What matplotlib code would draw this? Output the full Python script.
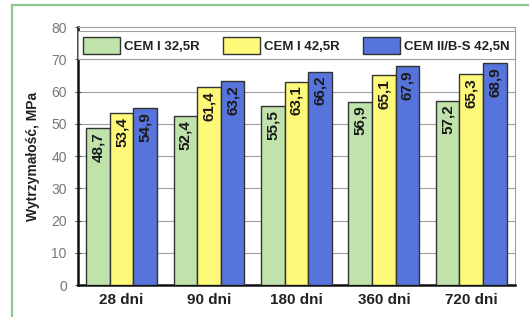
import matplotlib.pyplot as plt
import numpy as np
from matplotlib.lines import Line2D

plt.rcParams['font.family'] = ['Liberation Sans', 'DejaVu Sans']

# data
periods = ['28 dni', '90 dni', '180 dni', '360 dni', '720 dni']
series = ['CEM I 32,5R', 'CEM I 42,5R', 'CEM II/B-S 42,5N']
cem_32_5r = [48.7, 52.4, 55.5, 56.9, 57.2]
cem_42_5r = [53.4, 61.4, 63.1, 65.1, 65.3]
cem_ii_42_5n = [54.9, 63.2, 66.2, 67.9, 68.9]
colors = ['#bfe3ab', '#fff97a', '#5674dc']

fig = plt.figure(figsize=(5.29, 3.17), dpi=100)
ax = fig.add_axes([0.1474, 0.1009, 0.8261, 0.8139])

# outer green frame (top and left edges only visible)
fig.add_artist(Line2D([12 / 529, 1], [1 - 5 / 317, 1 - 5 / 317],
                      transform=fig.transFigure, color='#8cc88c', lw=1.6))
fig.add_artist(Line2D([12 / 529, 12 / 529], [0, 1 - 5 / 317],
                      transform=fig.transFigure, color='#8cc88c', lw=1.6))

x = np.arange(len(periods))
w = 0.27
for i, (vals, c, name) in enumerate(zip([cem_32_5r, cem_42_5r, cem_ii_42_5n], colors, series)):
    bars = ax.bar(x + (i - 1) * w, vals, w, color=c, edgecolor='#333333',
                  linewidth=1.0, label=name, zorder=3)
    for b, v in zip(bars, vals):
        ax.annotate(f'{v:.1f}'.replace('.', ','),
                    (b.get_x() + b.get_width() / 2, v),
                    xytext=(0, -3), textcoords='offset points',
                    rotation=90, ha='center', va='top',
                    fontsize=11, fontweight='bold', color='#1a1a1a', zorder=4)

ax.set_xlim(-0.5, len(periods) - 0.5)
ax.set_ylim(0, 80)
ax.set_yticks(range(0, 81, 10))
ax.set_xticks(x)
ax.set_xticklabels(periods, fontsize=11, fontweight='bold', color='#222222')
ax.tick_params(axis='x', length=0, pad=6)
ax.tick_params(axis='y', labelsize=10, labelcolor='#777777', length=4,
               direction='inout', color='#555555', pad=6)
ax.yaxis.grid(True, color='#a0a0a0', linewidth=0.8, zorder=0)
ax.set_axisbelow(True)

for s in ['left', 'bottom']:
    ax.spines[s].set_linewidth(1.8)
    ax.spines[s].set_color('#111111')
for s in ['top', 'right']:
    ax.spines[s].set_linewidth(0.8)
    ax.spines[s].set_color('#a0a0a0')

ax.set_ylabel('Wytrzymałość, MPa', fontsize=10, fontweight='bold',
              color='#222222', labelpad=8)

leg = ax.legend(loc='lower left', bbox_to_anchor=(0, 0.875, 1, 0.125),
                mode='expand', ncol=3, borderaxespad=0, fancybox=False,
                framealpha=1, edgecolor='#a0a0a0', handlelength=2.8,
                handleheight=1.65, columnspacing=0.8, handletextpad=0.3,
                borderpad=0.4, prop={'weight': 'bold', 'size': 9.5})
leg.get_frame().set_linewidth(0.8)
for t in leg.get_texts():
    t.set_color('#222222')

fig.savefig('out.png', dpi=100)
